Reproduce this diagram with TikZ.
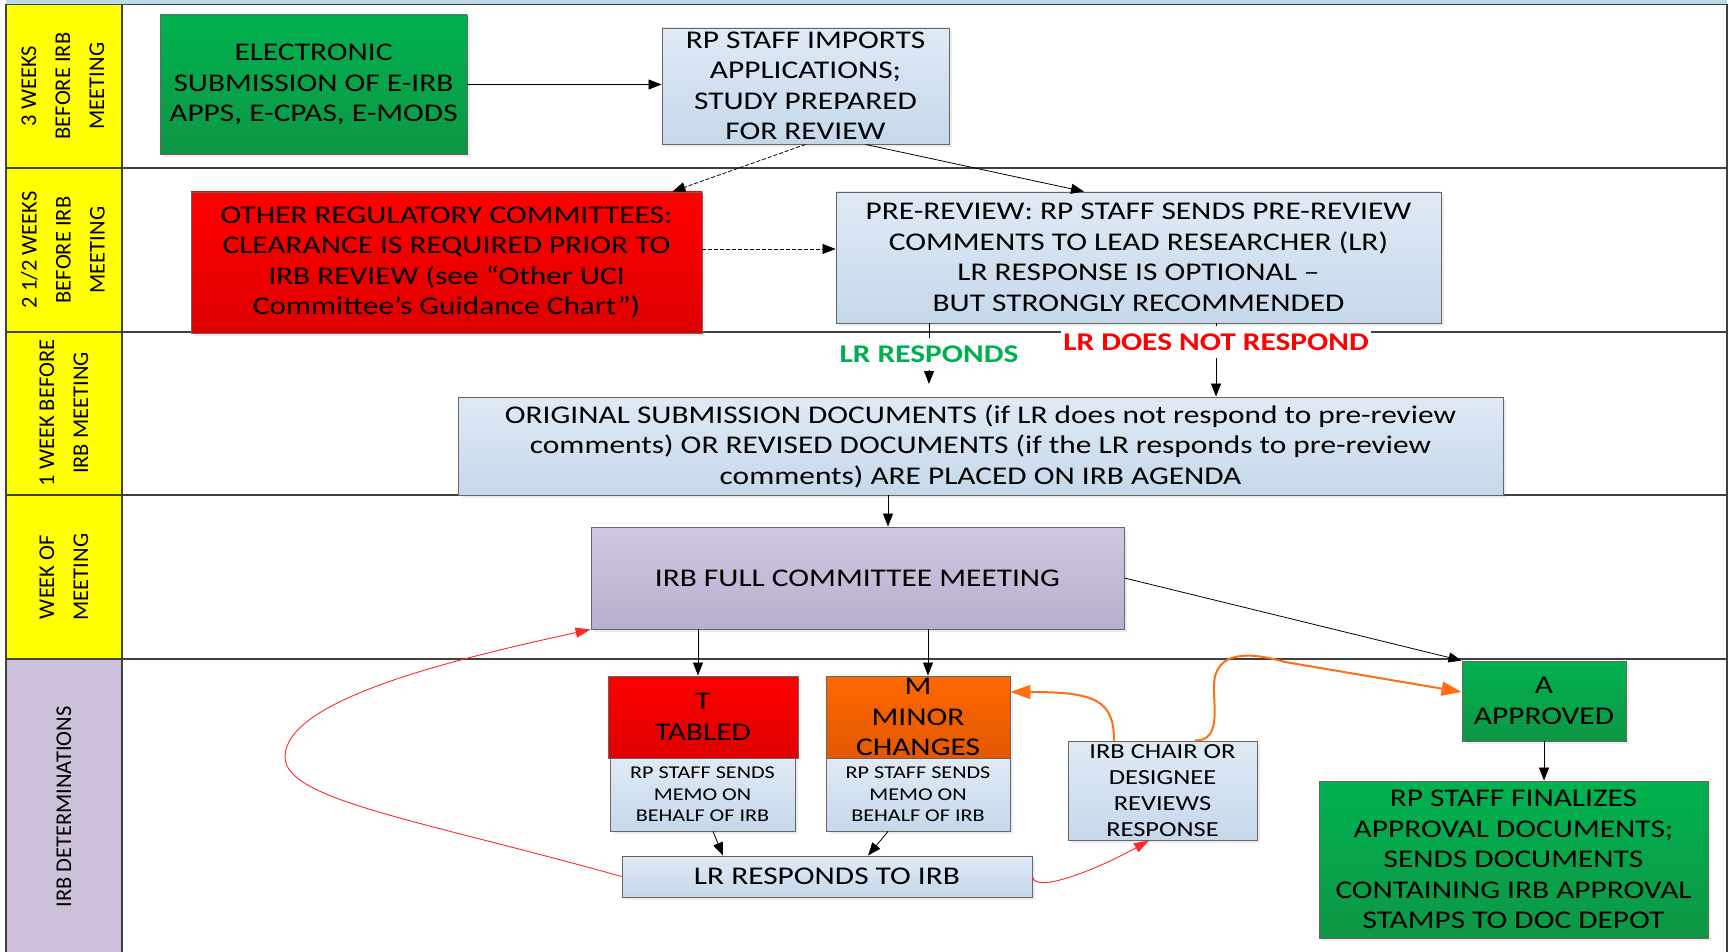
\documentclass[tikz,border=0pt]{standalone}
\usepackage{fontspec}
\setmainfont{Carlito}[FakeStretch=1.23]
\newfontfamily\colfont{Carlito}
\usetikzlibrary{arrows.meta,shadows}
\definecolor{yel}{RGB}{255,255,0}
\definecolor{lav}{RGB}{204,192,218}
\definecolor{bltop}{RGB}{224,234,245}
\definecolor{blbot}{RGB}{197,216,234}
\definecolor{grtop}{RGB}{0,178,80}
\definecolor{grbot}{RGB}{14,150,68}
\definecolor{rdtop}{RGB}{255,0,0}
\definecolor{rdbot}{RGB}{222,0,0}
\definecolor{ortop}{RGB}{255,104,0}
\definecolor{orbot}{RGB}{226,88,0}
\definecolor{lvtop}{RGB}{208,199,224}
\definecolor{lvbot}{RGB}{186,174,206}
\definecolor{topband}{RGB}{188,218,232}
\definecolor{lrgreen}{RGB}{0,176,80}
\definecolor{orline}{RGB}{255,110,20}
\definecolor{rdline}{RGB}{255,40,40}
\newcommand\fbig{\fontsize{25.5}{30.5}\selectfont}
\newcommand\fmemo{\fontsize{18}{21.5}\selectfont}
\newcommand\fchair{\fontsize{21.5}{26}\selectfont}
\newcommand\fcol{\colfont\fontsize{22.5}{34}\selectfont}
\begin{document}
\begin{tikzpicture}[x=1pt,y=-1pt,
 frame/.style={draw=black!75, line width=1.3pt},
 box/.style={draw=black!60, line width=0.9pt, align=center, inner sep=1pt, font=\fbig,
   drop shadow={shadow xshift=3pt, shadow yshift=-3pt, opacity=0.15}},
 bluebox/.style={box, top color=bltop, bottom color=blbot},
 greenbox/.style={box, top color=grtop, bottom color=grbot},
 redbox/.style={box, top color=rdtop, bottom color=rdbot},
 orbox/.style={box, top color=ortop, bottom color=orbot},
 lavbox/.style={box, top color=lvtop, bottom color=lvbot},
 arr/.style={-{Triangle[length=13pt,width=10pt]}, line width=0.8pt, draw=black},
 darr/.style={arr, dash pattern=on 4pt off 2pt},
 oarr/.style={-{Triangle[length=20pt,width=14pt]}, line width=2pt, draw=orline},
 rarr/.style={-{Triangle[length=15pt,width=10pt]}, line width=0.9pt, draw=rdline},
 lbl/.style={fill=white, font=\fbig\bfseries, inner xsep=2pt, minimum height=32pt},
 collbl/.style={rotate=90, align=center, font=\fcol}
]
\useasboundingbox (0,0) rectangle (1729,952);
% frame
\fill[topband] (6,0) rectangle (1727,4.5);
\fill[yel] (6,4.5) rectangle (122,659);
\fill[lav] (6,659) rectangle (122,952);
\draw[frame] (6,4.5) -- (1727,4.5);
\draw[frame] (6,4.5) -- (6,952);
\draw[frame] (1727,4.5) -- (1727,952);
\draw[frame] (122,4.5) -- (122,952);
\foreach \yy in {168,332,495,659} \draw[frame] (6,\yy) -- (1727,\yy);
% lane labels
\node[collbl] (c1) at (63,86) {3 WEEKS\\BEFORE IRB\\MEETING};
\node[collbl] (c2) at (63,250) {2 1/2 WEEKS\\BEFORE IRB\\MEETING};
\node[collbl] (c3) at (64,413) {1 WEEK BEFORE\\IRB MEETING};
\node[collbl] (c4) at (64,577) {WEEK OF\\MEETING};
\node[collbl] (c5) at (64,807) {IRB DETERMINATIONS};
% boxes
\node[greenbox, minimum width=307pt, minimum height=139pt] (elec) at (313.5,84.5) {ELECTRONIC\\SUBMISSION OF E-IRB\\APPS, E-CPAS, E-MODS};
\node[bluebox, minimum width=287pt, minimum height=116pt] (rpimp) at (805.5,86) {RP STAFF IMPORTS\\APPLICATIONS;\\STUDY PREPARED\\FOR REVIEW};
\node[redbox, minimum width=511pt, minimum height=141pt] (otherreg) at (446.5,262.5) {OTHER REGULATORY COMMITTEES:\\CLEARANCE IS REQUIRED PRIOR TO\\IRB REVIEW (see “Other UCI\\Committee’s Guidance Chart”)};
\node[bluebox, minimum width=605pt, minimum height=131pt] (prerev) at (1138.5,257.5) {PRE-REVIEW: RP STAFF SENDS PRE-REVIEW\\COMMENTS TO LEAD RESEARCHER (LR)\\LR RESPONSE IS OPTIONAL –\\BUT STRONGLY RECOMMENDED};
\node[bluebox, minimum width=1045pt, minimum height=98pt] (orig) at (980.5,446) {ORIGINAL SUBMISSION DOCUMENTS (if LR does not respond to pre-review\\comments) OR REVISED DOCUMENTS (if the LR responds to pre-review\\comments) ARE PLACED ON IRB AGENDA};
\node[lavbox, minimum width=533pt, minimum height=102pt] (irbmeet) at (857.5,578) {IRB FULL COMMITTEE MEETING};
\node[redbox, minimum width=190pt, minimum height=82pt] (tabled) at (703,717) {T\\TABLED};
\node[bluebox, font=\fmemo, minimum width=185pt, minimum height=73pt] (tmemo) at (702.5,794.5) {RP STAFF SENDS\\MEMO ON\\BEHALF OF IRB};
\node[orbox, minimum width=184pt, minimum height=82pt] (minor) at (918,717) {M\\MINOR\\CHANGES};
\node[bluebox, font=\fmemo, minimum width=184pt, minimum height=73pt] (mmemo) at (918,794.5) {RP STAFF SENDS\\MEMO ON\\BEHALF OF IRB};
\node[bluebox, font=\fchair, minimum width=189pt, minimum height=99pt] (chair) at (1162.5,790.5) {IRB CHAIR OR\\DESIGNEE\\REVIEWS\\RESPONSE};
\node[bluebox, minimum width=410pt, minimum height=41pt] (lrresp) at (827,876.5) {LR RESPONDS TO IRB};
\node[greenbox, minimum width=164pt, minimum height=80pt] (approved) at (1544,701) {A\\APPROVED};
\node[greenbox, minimum width=389pt, minimum height=157pt] (final) at (1513.5,859.5) {RP STAFF FINALIZES\\APPROVAL DOCUMENTS;\\SENDS DOCUMENTS\\CONTAINING IRB APPROVAL\\STAMPS TO DOC DEPOT};
% labels
\node[lbl, text=lrgreen] (lryes) at (929,354) {LR RESPONDS};
\node[lbl, text=red] (lrno) at (1216,342) {LR DOES NOT RESPOND};
% helper coordinates
\coordinate (yesend) at (929,384);
\coordinate (xo) at (888,0);
\coordinate (xt) at (698,0);
\coordinate (xm) at (928,0);
% connectors
\draw[arr] (elec.east) -- (elec.east -| rpimp.west);
\draw[darr] (rpimp.south) -- ([xshift=-30pt]otherreg.north east);
\draw[arr] ([xshift=60pt]rpimp.south) -- ([xshift=-54.5pt]prerev.north);
\draw[darr] ([yshift=13.5pt]otherreg.east) -- ([yshift=13.5pt]otherreg.east -| prerev.west);
\draw[line width=0.8pt] (prerev.south -| lryes) -- (lryes);
\draw[arr] (lryes) -- (yesend);
\draw[line width=0.8pt] (prerev.south -| lrno) -- (lrno);
\draw[arr] (lrno) -- (lrno |- orig.north);
\draw[arr] (orig.south -| xo) -- (irbmeet.north -| xo);
\draw[arr] (irbmeet.south -| xt) -- (tabled.north -| xt);
\draw[arr] (irbmeet.south -| xm) -- (minor.north -| xm);
\draw[arr] (irbmeet.east) -- (approved.north west);
\draw[arr] (approved.south) -- (approved.south |- final.north);
\draw[arr] ([xshift=10.5pt]tmemo.south) -- ([xshift=-104pt]lrresp.north);
\draw[arr] ([xshift=-30pt]mmemo.south) -- ([xshift=41pt]lrresp.north);
\draw[rarr] (lrresp.west) .. controls (420,820) and (285,800) .. (285,757)
   .. controls (285,700) and (450,660) .. (irbmeet.south west);
\draw[rarr] (lrresp.east) .. controls (1034,895) and (1100,868) .. ([xshift=-13.5pt]chair.south);
\draw[oarr] ([xshift=-48.5pt]chair.north) .. controls (1114,700) and (1095,692) .. ([yshift=25pt]minor.east);
\draw[oarr] ([xshift=32.5pt]chair.north) .. controls (1222,741) and (1213,705) .. (1214,685)
   .. controls (1215,650) and (1250,652) .. (1285,662) -- ([yshift=9pt]approved.west);
\end{tikzpicture}
\end{document}
